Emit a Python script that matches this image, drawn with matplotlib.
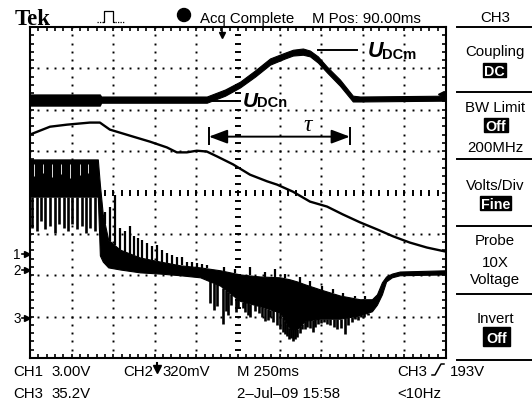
import matplotlib
matplotlib.use('Agg')
import matplotlib.pyplot as plt
from matplotlib import font_manager
from matplotlib.ticker import MultipleLocator
from matplotlib.patches import Rectangle, Circle, ArrowStyle
import numpy as np

# ---------------- data (screen divisions: x 0..10, y -4..4) ----------------
# CH3 : DC-link voltage U_DC (noisy band: upper / lower edge)
ch3_x = [0.00, 1.68, 1.71, 4.25, 4.69, 5.05, 5.41, 5.77, 6.13, 6.32, 6.56, 6.73, 6.92, 7.14, 7.45, 7.76, 7.93, 10.0]
ch3_hi = [2.37, 2.37, 2.32, 2.32, 2.49, 2.68, 2.95, 3.24, 3.38, 3.45, 3.48, 3.43, 3.29, 3.04, 2.73, 2.34, 2.32, 2.34]
ch3_lo = [2.10, 2.10, 2.17, 2.17, 2.34, 2.54, 2.80, 3.09, 3.24, 3.31, 3.33, 3.29, 3.14, 2.90, 2.58, 2.20, 2.20, 2.22]

# CH1 : slowly decaying trace
ch1_x = [0.00, 0.48, 0.89, 1.44, 1.68, 1.92, 2.48, 2.88, 3.29, 3.53, 3.77, 4.01, 4.25, 4.50,
         4.88, 5.29, 5.70, 5.94, 6.32, 6.73, 7.14, 7.52, 7.93, 8.34, 8.73, 9.13, 9.54, 10.0]
ch1_y = [1.40, 1.59, 1.64, 1.69, 1.69, 1.52, 1.35, 1.23, 1.09, 0.97, 0.97, 1.01, 0.99, 0.87,
         0.68, 0.43, 0.27, 0.19, 0.02, -0.22, -0.34, -0.53, -0.72, -0.89, -1.06, -1.21, -1.33, -1.43]

# CH2 : oscillating signal, dense band edges
ch2_x = [0.00, 1.63, 1.68, 1.75, 1.88, 2.16, 2.64, 3.13, 3.61, 4.09, 4.57, 5.05, 5.53, 6.01,
         6.25, 6.42, 6.61, 6.97, 7.45, 7.93, 8.22, 8.34, 8.46, 8.56, 8.70, 8.89, 10.0]
ch2_hi = [0.80, 0.80, 0.19, -0.53, -1.14, -1.38, -1.57, -1.67, -1.76, -1.81, -1.88, -1.98, -2.03, -2.05,
          -2.10, -2.15, -2.22, -2.34, -2.49, -2.58, -2.58, -2.46, -2.17, -2.03, -1.96, -1.91, -1.88]
ch2_lo = [-0.10, -0.10, -1.52, -1.67, -1.81, -1.86, -1.93, -1.96, -2.00, -2.05, -2.25, -2.62, -2.75, -2.90,
          -3.30, -3.30, -3.10, -3.05, -3.05, -2.97, -2.87, -2.71, -2.46, -2.15, -2.05, -2.00, -1.98]
# CH2 spikes below the band (x, lowest value)
ch2_dn_x = [0.05, 0.16, 0.26, 0.37, 0.48, 0.59, 0.70, 0.81, 0.91, 1.02, 1.13, 1.24, 1.35, 1.45, 1.56,
            4.33, 4.42, 4.50, 4.64, 4.71, 4.77, 4.83, 4.95, 5.00, 5.12, 5.18, 5.24, 5.30, 5.41, 5.50,
            5.58, 5.65, 5.72, 5.78, 5.84, 5.93, 6.01, 6.07, 6.13, 6.18, 6.23, 6.28, 6.32, 6.37, 6.42,
            6.48, 6.54, 6.60, 6.66, 6.73, 6.80, 6.86, 6.92, 7.00, 7.07, 7.14, 7.21, 7.30, 7.38, 7.47,
            7.57, 7.65, 7.74, 7.81, 7.88, 7.95, 8.03, 8.12]
ch2_dn_y = [-0.85, -0.94, -0.70, -0.89, -0.80, -0.97, -0.75, -0.87, -0.92, -0.77, -0.89, -0.82, -0.99, -0.87, -0.94,
            -2.66, -2.83, -2.75, -3.19, -2.87, -2.95, -2.71, -2.90, -2.80, -2.78, -2.88, -2.95, -3.00, -2.87, -2.92,
            -3.02, -3.10, -3.07, -3.00, -3.12, -3.20, -3.31, -3.38, -3.43, -3.48, -3.55, -3.52, -3.60, -3.55, -3.50,
            -3.40, -3.31, -3.30, -3.26, -3.28, -3.36, -3.25, -3.19, -3.15, -3.12, -3.18, -3.21, -3.25, -3.31, -3.28,
            -3.41, -3.20, -3.12, -3.05, -3.07, -3.02, -3.02, -2.95]
# CH2 spikes above the band (x, highest value)
ch2_up_x = [1.80, 1.92, 2.04, 2.16, 2.28, 2.40, 2.50, 2.60, 2.69, 2.81, 2.93, 3.05, 3.17, 3.29, 3.41,
            3.53, 3.65, 3.77, 3.89, 4.01, 4.13, 4.25,
            4.66, 4.93, 5.29, 5.65, 5.89, 6.13, 6.49, 6.73, 7.02, 7.28, 7.52, 7.81, 8.05]
ch2_up_y = [-0.46, -0.36, -0.05, -0.85, -0.94, -0.80, -1.04, -1.09, -1.14, -1.21, -1.30, -1.28, -1.38, -1.47, -1.52,
            -1.57, -1.57, -1.67, -1.67, -1.71, -1.74, -1.76,
            -1.81, -1.86, -1.81, -1.91, -1.86, -1.96, -2.05, -2.15, -2.25, -2.34, -2.42, -2.49, -2.49]
# gaps inside the early oscillation band (x, lower end of gap)
ch2_gap_x = [0.10, 0.31, 0.53, 0.75, 0.97, 1.19, 1.40]
ch2_gap_y = [0.40, 0.48, 0.38, 0.45, 0.35, 0.42, 0.47]

# text content
header_texts = ["Acq Complete", "M Pos: 90.00ms", "CH3"]
menu_labels = ["Coupling", "BW Limit", "200MHz", "Volts/Div", "Probe", "10X", "Voltage", "Invert"]
menu_boxes = ["DC", "Off", "Fine", "Off"]
footer_row1 = ["CH1", "3.00V", "CH2", "320mV", "M 250ms", "CH3", "193V"]
footer_row2 = ["CH3", "35.2V", "2–Jul–09 15:58", "<10Hz"]

# ---------------- fonts ----------------
names = {f.name for f in font_manager.fontManager.ttflist}
if 'Liberation Sans Narrow' in names:
    NARROW, FS = 'Liberation Sans Narrow', 12.5
else:
    NARROW, FS = 'Liberation Sans', 10.8

W, H = 532, 406
fig = plt.figure(figsize=(W / 100, H / 100), dpi=100)
fig.patch.set_facecolor('white')

# ---------------- screen / graticule ----------------
ax = fig.add_axes([30 / W, (H - 359) / H, 416 / W, 331 / H])
ax.set_xlim(0, 10)
ax.set_ylim(-4, 4)
for s in ax.spines.values():
    s.set_linewidth(1.5)
ax.xaxis.set_major_locator(MultipleLocator(1))
ax.yaxis.set_major_locator(MultipleLocator(1))
ax.xaxis.set_minor_locator(MultipleLocator(0.2))
ax.yaxis.set_minor_locator(MultipleLocator(0.2))
ax.tick_params(which='both', direction='in', length=3.2, width=1.2, top=True, right=True,
               labelbottom=False, labelleft=False)

gx = np.arange(0, 10.001, 0.2)
gy = np.arange(-4, 4.001, 0.2)
for yv in [-3, -2, -1, 1, 2, 3]:
    ax.plot(gx, np.full_like(gx, yv), ls='none', marker='s', ms=1.4, mew=0, color='k', zorder=1)
for xv in [1, 2, 3, 4, 6, 7, 8, 9]:
    ax.plot(np.full_like(gy, xv), gy, ls='none', marker='s', ms=1.4, mew=0, color='k', zorder=1)
ax.plot(np.full_like(gy, 5), gy, ls='none', marker='_', ms=4, mew=1.4, color='k', zorder=1)
ax.plot(gx, np.zeros_like(gx), ls='none', marker='|', ms=4, mew=1.4, color='k', zorder=1)

# ---------------- traces ----------------
ax.fill_between(ch3_x, ch3_lo, ch3_hi, color='k', lw=0.8, zorder=3)
ax.plot(ch1_x, ch1_y, color='k', lw=1.7, zorder=3, solid_joinstyle='round')
ax.fill_between(ch2_x, ch2_lo, ch2_hi, color='k', lw=0.8, zorder=3)
ax.vlines(ch2_dn_x, ch2_dn_y, np.interp(ch2_dn_x, ch2_x, ch2_lo), color='k', lw=1.9, zorder=3)
ax.vlines(ch2_up_x, np.interp(ch2_up_x, ch2_x, ch2_hi), ch2_up_y, color='k', lw=1.6, zorder=3)
ax.vlines(ch2_gap_x, ch2_gap_y, 0.70, color='white', lw=0.6, zorder=4)

# trigger markers
ax.plot([4.62], [3.80], marker='v', ms=5, color='k', clip_on=False, zorder=5)
ax.plot([4.62, 4.62], [3.82, 3.98], color='k', lw=1.2, zorder=5)
ax.plot([9.88], [2.37], marker='<', ms=5, color='k', zorder=5)

# ---------------- annotations ----------------
ax.plot([6.92, 7.86], [3.45, 3.45], color='k', lw=1.4, zorder=5)
ax.text(8.13, 3.29, 'U', fontfamily='Liberation Sans', fontweight='bold', fontstyle='italic',
        fontsize=15.5, ha='left', va='baseline', zorder=6)
ax.text(8.46, 3.26, 'DCm', fontfamily='Liberation Sans', fontweight='bold',
        fontsize=10.5, ha='left', va='baseline', zorder=6)
ax.plot([4.40, 4.98], [2.20, 2.20], color='k', lw=1.4, zorder=5)
ax.text(5.12, 2.08, 'U', fontfamily='Liberation Sans', fontweight='bold', fontstyle='italic',
        fontsize=15, ha='left', va='baseline', zorder=6)
ax.text(5.46, 2.08, 'DCn', fontfamily='Liberation Sans', fontweight='bold',
        fontsize=10.5, ha='left', va='baseline', zorder=6)

ax.vlines([4.30, 7.69], 1.16, 1.59, color='k', lw=1.4, zorder=5)
ax.annotate('', xy=(4.30, 1.35), xytext=(7.69, 1.35),
            arrowprops=dict(arrowstyle=ArrowStyle('<|-|>', head_length=0.8, head_width=0.3),
                            color='k', lw=1.4, mutation_scale=14, shrinkA=0, shrinkB=0), zorder=5)
ax.text(6.68, 1.52, 'τ', fontfamily='Liberation Serif', fontstyle='italic', fontsize=17,
        ha='center', va='baseline', zorder=6)

# ---------------- surrounding text (pixel overlay) ----------------
ov = fig.add_axes([0, 0, 1, 1], zorder=10)
ov.set_xlim(0, W)
ov.set_ylim(H, 0)
ov.axis('off')
ov.patch.set_alpha(0)

def t(x, y, s, ha='left', **kw):
    kw.setdefault('fontfamily', NARROW)
    kw.setdefault('fontsize', FS)
    ov.text(x, y, s, ha=ha, va='baseline', **kw)

# header
t(15, 25, 'Tek', fontfamily='Liberation Serif', fontweight='bold', fontsize=16.5)
ov.plot([97, 103], [23, 23], color='k', lw=0.9, ls=(0, (1, 1)))
ov.plot([103, 104, 104, 113, 113, 114], [23, 23, 12, 12, 23, 23], color='k', lw=0.9)
ov.plot([115, 125], [23, 23], color='k', lw=0.9, ls=(0, (1, 1)))
ov.add_patch(Circle((184, 16), 6.5, color='k'))
t(200, 23, header_texts[0])
t(312, 23, header_texts[1])
t(495, 22, header_texts[2], ha='center')

# right menu
for yl in [28, 93, 160, 227, 295, 361]:
    ov.plot([457, 532], [yl, yl], color='k', lw=1.4)
for s, y in zip(menu_labels, [56, 112, 152, 190, 245, 267, 284, 323]):
    t(495, y, s, ha='center')
for s, (x0, y0, w, h, yb) in zip(menu_boxes, [(483, 64, 23, 14, 76), (484, 119, 24, 14, 131),
                                              (480, 197, 31, 14, 209), (483, 328, 27, 19, 343)]):
    ov.add_patch(Rectangle((x0, y0), w, h, color='k'))
    t(x0 + w / 2, yb, s, ha='center', color='white', fontweight='bold', fontsize=FS * 0.95)

# channel ground markers
for s, y in zip(['1', '2', '3'], [255, 271, 319]):
    ov.text(17, y, s, ha='center', va='center', fontfamily=NARROW, fontsize=FS * 0.9)
    ov.plot([22, 27], [y, y], color='k', lw=1.2)
    ov.plot([27], [y], marker='>', ms=4.5, color='k')

# footer
t(13, 376, footer_row1[0]); t(51, 376, footer_row1[1])
t(123, 376, footer_row1[2])
ov.plot([157, 157], [364, 369], color='k', lw=1.5)
ov.plot([157], [370], marker='v', ms=6, color='k')
t(162, 376, footer_row1[3])
t(237, 376, footer_row1[4])
t(397, 376, footer_row1[5])
ov.plot([432, 435, 441, 444], [376, 376, 365, 365], color='k', lw=1.1)
t(450, 376, footer_row1[6])
t(13, 398, footer_row2[0]); t(51, 398, footer_row2[1])
t(237, 398, footer_row2[2])
t(397, 398, footer_row2[3])

fig.savefig('out.png', dpi=100, facecolor='white')
